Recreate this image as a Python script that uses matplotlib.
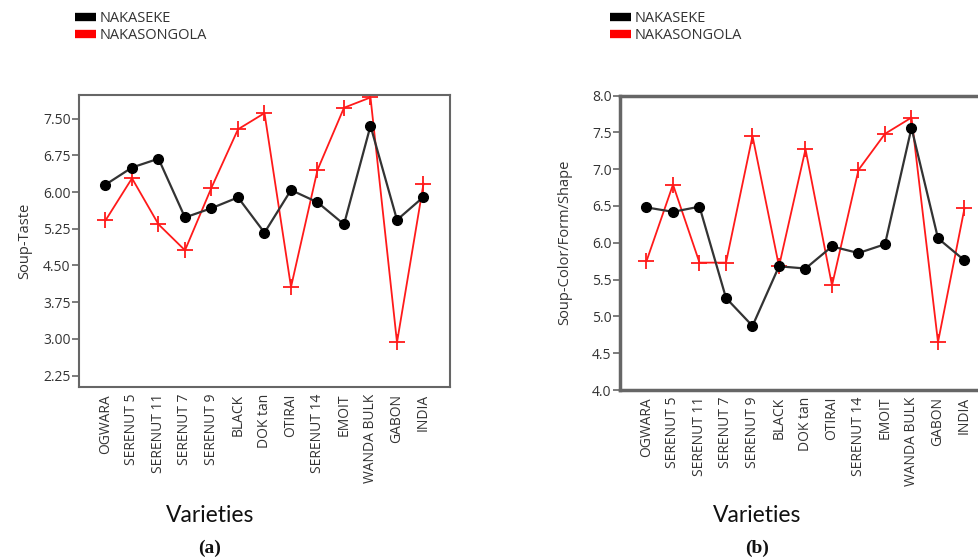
import matplotlib
matplotlib.use("Agg")
import matplotlib.pyplot as plt
from matplotlib.lines import Line2D
import numpy as np

varieties = ["OGWARA", "SERENUT 5", "SERENUT 11", "SERENUT 7", "SERENUT 9", "BLACK",
             "DOK tan", "OTIRAI", "SERENUT 14", "EMOIT", "WANDA BULK", "GABON", "INDIA"]

taste_nakaseke = [6.15, 6.50, 6.68, 5.48, 5.67, 5.89, 5.17, 6.04, 5.79, 5.34, 7.35, 5.43, 5.90]
taste_nakasongola = [5.42, 6.28, 5.34, 4.81, 6.09, 7.28, 7.61, 4.06, 6.45, 7.72, 7.93, 2.93, 6.17]

color_nakaseke = [6.48, 6.42, 6.49, 5.25, 4.87, 5.68, 5.65, 5.95, 5.86, 5.98, 7.56, 6.06, 5.76]
color_nakasongola = [5.75, 6.79, 5.73, 5.73, 7.45, 5.68, 7.27, 5.42, 6.99, 7.48, 7.70, 4.65, 6.47]

taste_ticks = [2.25, 3.00, 3.75, 4.50, 5.25, 6.00, 6.75, 7.50]
color_ticks = [4.0, 4.5, 5.0, 5.5, 6.0, 6.5, 7.0, 7.5, 8.0]

W, H = 979, 560
fig = plt.figure(figsize=(W / 100, H / 100), dpi=100)
plt.rcParams['font.family'] = ['Open Sans', 'DejaVu Sans']

def px_axes(left, top, right, bottom):
    return fig.add_axes([left / W, 1 - bottom / H, (right - left) / W, (bottom - top) / H])

ax_a = px_axes(79, 95, 450, 387)
ax_b = px_axes(620, 95.5, 991, 390)

x = np.arange(len(varieties))
spine_col = "#666666"
txt_col = "#333333"

def draw(ax, s1, s2, ylabel, ticks, fmt, ylim, lw_left, labelpad):
    ax.plot(x, s1, color="#333333", lw=1.6, marker="o", ms=7, mfc="black", mec="black", zorder=3)
    ax.plot(x, s2, color="#ff1a1a", lw=1.3, marker="+", ms=11, mew=1.3, zorder=2)
    ax.set_xlim(-1, 13)
    ax.set_ylim(*ylim)
    ax.set_xticks(x)
    ax.set_xticklabels(varieties, rotation=90, fontsize=10, color=txt_col)
    ax.tick_params(axis="x", length=0, pad=5)
    ax.set_yticks(ticks)
    ax.set_yticklabels([fmt.format(t) for t in ticks], fontsize=10, color=txt_col)
    ax.tick_params(axis="y", length=5, width=1.2, color=spine_col, pad=1)
    ax.set_ylabel(ylabel, fontsize=10.5, color=txt_col, labelpad=labelpad)
    for s in ax.spines.values():
        s.set_color(spine_col)
        s.set_linewidth(1.5)
    ax.spines["left"].set_linewidth(lw_left)

draw(ax_a, taste_nakaseke, taste_nakasongola, "Soup-Taste", taste_ticks, "{:.2f}", (2.02, 7.98), 1.5, 8)
draw(ax_b, color_nakaseke, color_nakasongola, "Soup-Color/Form/Shape", color_ticks, "{:.1f}", (4.0, 8.0), 2.5, 14)
ax_b.spines["top"].set_linewidth(2.5)
ax_b.spines["bottom"].set_linewidth(2.5)

handles = [Line2D([0], [0], color="black", lw=6, solid_capstyle="butt"),
           Line2D([0], [0], color="#ff0000", lw=6, solid_capstyle="butt")]
labels = ["NAKASEKE", "NAKASONGOLA"]
for lx in (75, 610):
    fig.legend(handles, labels, loc="upper left", bbox_to_anchor=(lx / W, 1 - 11 / H),
               frameon=False, fontsize=10.5, handlelength=1.45, handletextpad=0.25,
               labelspacing=0.17, borderaxespad=0, borderpad=0, labelcolor=txt_col)

for cx, lab in ((210, "(a)"), (757, "(b)")):
    fig.text(cx / W, 1 - 516 / H, "Varieties", ha="center", va="center",
             fontsize=16.5, family=["Lato", "DejaVu Sans"], color="#111111")
    fig.text(cx / W, 1 - 548 / H, lab, ha="center", va="center",
             fontsize=14, family=["Liberation Serif"], fontweight="bold", color="#111111")

fig.savefig("out.png", dpi=100)
